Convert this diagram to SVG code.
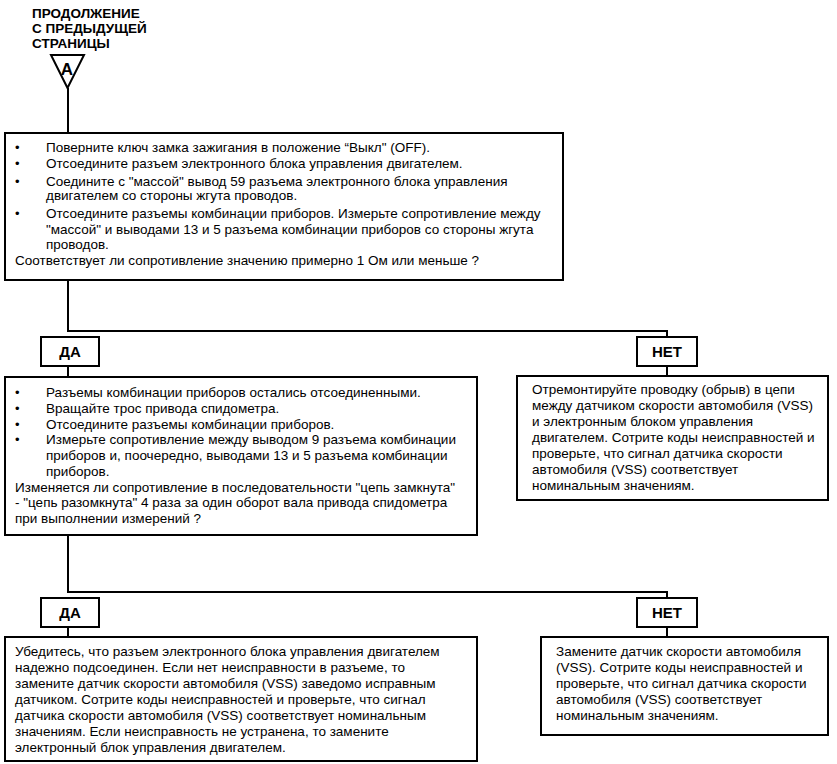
<svg xmlns="http://www.w3.org/2000/svg" width="837" height="764" viewBox="0 0 837 764">
<style>
  .box { fill: #fff; stroke: #000; stroke-width: 2; }
  .lbl { fill: #fff; stroke: #000; stroke-width: 2; }
  .t { font-family: "Liberation Sans", Arial, sans-serif; font-size: 13.5px; fill: #000; }
  .b { font-family: "Liberation Sans", Arial, sans-serif; font-size: 15px; font-weight: bold; fill: #000; text-anchor: middle; }
  .h { font-family: "Liberation Sans", Arial, sans-serif; font-size: 13.5px; font-weight: bold; fill: #000; }
  .dot { font-family: "Liberation Sans", Arial, sans-serif; font-size: 13px; fill: #000; }
  .c { fill: none; stroke: #000; stroke-width: 2; }
</style>
<rect x="0" y="0" width="837" height="764" fill="#fff"/>

<g id="connectors">
  <path class="c" d="M68,88 V133"/>
  <path class="c" d="M68,280 V331 H667 V337"/>
  <path class="c" d="M68,366 V377"/>
  <path class="c" d="M667,366 V376"/>
  <path class="c" d="M68,535 V592 H667 V598"/>
  <path class="c" d="M68,627 V637"/>
  <path class="c" d="M667,627 V637"/>
</g>

<g id="start">
  <text class="h" x="32" y="18">ПРОДОЛЖЕНИЕ</text>
  <text class="h" x="32" y="33">С ПРЕДЫДУЩЕЙ</text>
  <text class="h" x="32" y="48">СТРАНИЦЫ</text>
  <polygon class="lbl" points="51,55 84,55 67.5,88"/>
  <text class="b" x="67" y="75" style="font-size:17px">A</text>
</g>

<g id="step1">
  <rect class="box" x="5" y="133" width="558" height="147"/>
  <text class="dot" x="15" y="152">•</text>
  <text class="t" x="46" y="152">Поверните ключ замка зажигания в положение “Выкл" (OFF).</text>
  <text class="dot" x="15" y="168">•</text>
  <text class="t" x="46" y="168">Отсоедините разъем электронного блока управления двигателем.</text>
  <text class="dot" x="15" y="186">•</text>
  <text class="t" x="46" y="186">Соедините с "массой" вывод 59 разъема электронного блока управления</text>
  <text class="t" x="46" y="200">двигателем со стороны жгута проводов.</text>
  <text class="dot" x="15" y="218">•</text>
  <text class="t" x="46" y="218">Отсоедините разъемы комбинации приборов. Измерьте сопротивление между</text>
  <text class="t" x="46" y="234">"массой" и выводами 13 и 5 разъема комбинации приборов со стороны жгута</text>
  <text class="t" x="46" y="249">проводов.</text>
  <text class="t" x="15" y="265">Соответствует ли сопротивление значению примерно 1 Ом или меньше ?</text>
</g>

<g id="yes1">
  <rect class="lbl" x="41" y="337" width="58" height="29"/>
  <text class="b" x="70" y="357">ДА</text>
</g>
<g id="no1">
  <rect class="lbl" x="637" y="337" width="60" height="29"/>
  <text class="b" x="667" y="357">НЕТ</text>
</g>

<g id="step2">
  <rect class="box" x="5" y="377" width="472" height="158"/>
  <text class="dot" x="15" y="397">•</text>
  <text class="t" x="46" y="397">Разъемы комбинации приборов остались отсоединенными.</text>
  <text class="dot" x="15" y="413">•</text>
  <text class="t" x="46" y="413">Вращайте трос привода спидометра.</text>
  <text class="dot" x="15" y="429">•</text>
  <text class="t" x="46" y="429">Отсоедините разъемы комбинации приборов.</text>
  <text class="dot" x="15" y="444">•</text>
  <text class="t" x="46" y="444">Измерьте сопротивление между выводом 9 разъема комбинации</text>
  <text class="t" x="46" y="460">приборов и, поочередно, выводами 13 и 5 разъема комбинации</text>
  <text class="t" x="46" y="476">приборов.</text>
  <text class="t" x="15" y="492">Изменяется ли сопротивление в последовательности "цепь замкнута"</text>
  <text class="t" x="15" y="507">- "цепь разомкнута" 4 раза за один оборот вала привода спидометра</text>
  <text class="t" x="15" y="523">при выполнении измерений ?</text>
</g>

<g id="repair1">
  <rect class="box" x="517" y="376" width="311" height="124"/>
  <text class="t" x="532" y="394">Отремонтируйте проводку (обрыв) в цепи</text>
  <text class="t" x="532" y="410">между датчиком скорости автомобиля (VSS)</text>
  <text class="t" x="532" y="426">и электронным блоком управления</text>
  <text class="t" x="532" y="442">двигателем. Сотрите коды неисправностей и</text>
  <text class="t" x="532" y="458">проверьте, что сигнал датчика скорости</text>
  <text class="t" x="532" y="474">автомобиля (VSS) соответствует</text>
  <text class="t" x="532" y="490">номинальным значениям.</text>
</g>

<g id="yes2">
  <rect class="lbl" x="41" y="598" width="58" height="29"/>
  <text class="b" x="70" y="618">ДА</text>
</g>
<g id="no2">
  <rect class="lbl" x="637" y="598" width="60" height="29"/>
  <text class="b" x="667" y="618">НЕТ</text>
</g>

<g id="result-yes">
  <rect class="box" x="5" y="637" width="472" height="124"/>
  <text class="t" x="15" y="656">Убедитесь, что разъем электронного блока управления двигателем</text>
  <text class="t" x="15" y="672">надежно подсоединен. Если нет неисправности в разъеме, то</text>
  <text class="t" x="15" y="688">замените датчик скорости автомобиля (VSS) заведомо исправным</text>
  <text class="t" x="15" y="704">датчиком. Сотрите коды неисправностей и проверьте, что сигнал</text>
  <text class="t" x="15" y="720">датчика скорости автомобиля (VSS) соответствует номинальным</text>
  <text class="t" x="15" y="736">значениям. Если неисправность не устранена, то замените</text>
  <text class="t" x="15" y="752">электронный блок управления двигателем.</text>
</g>

<g id="result-no">
  <rect class="box" x="541" y="637" width="287" height="98"/>
  <text class="t" x="556" y="656">Замените датчик скорости автомобиля</text>
  <text class="t" x="556" y="672">(VSS). Сотрите коды неисправностей и</text>
  <text class="t" x="556" y="688">проверьте, что сигнал датчика скорости</text>
  <text class="t" x="556" y="704">автомобиля (VSS) соответствует</text>
  <text class="t" x="556" y="720">номинальным значениям.</text>
</g>
</svg>
